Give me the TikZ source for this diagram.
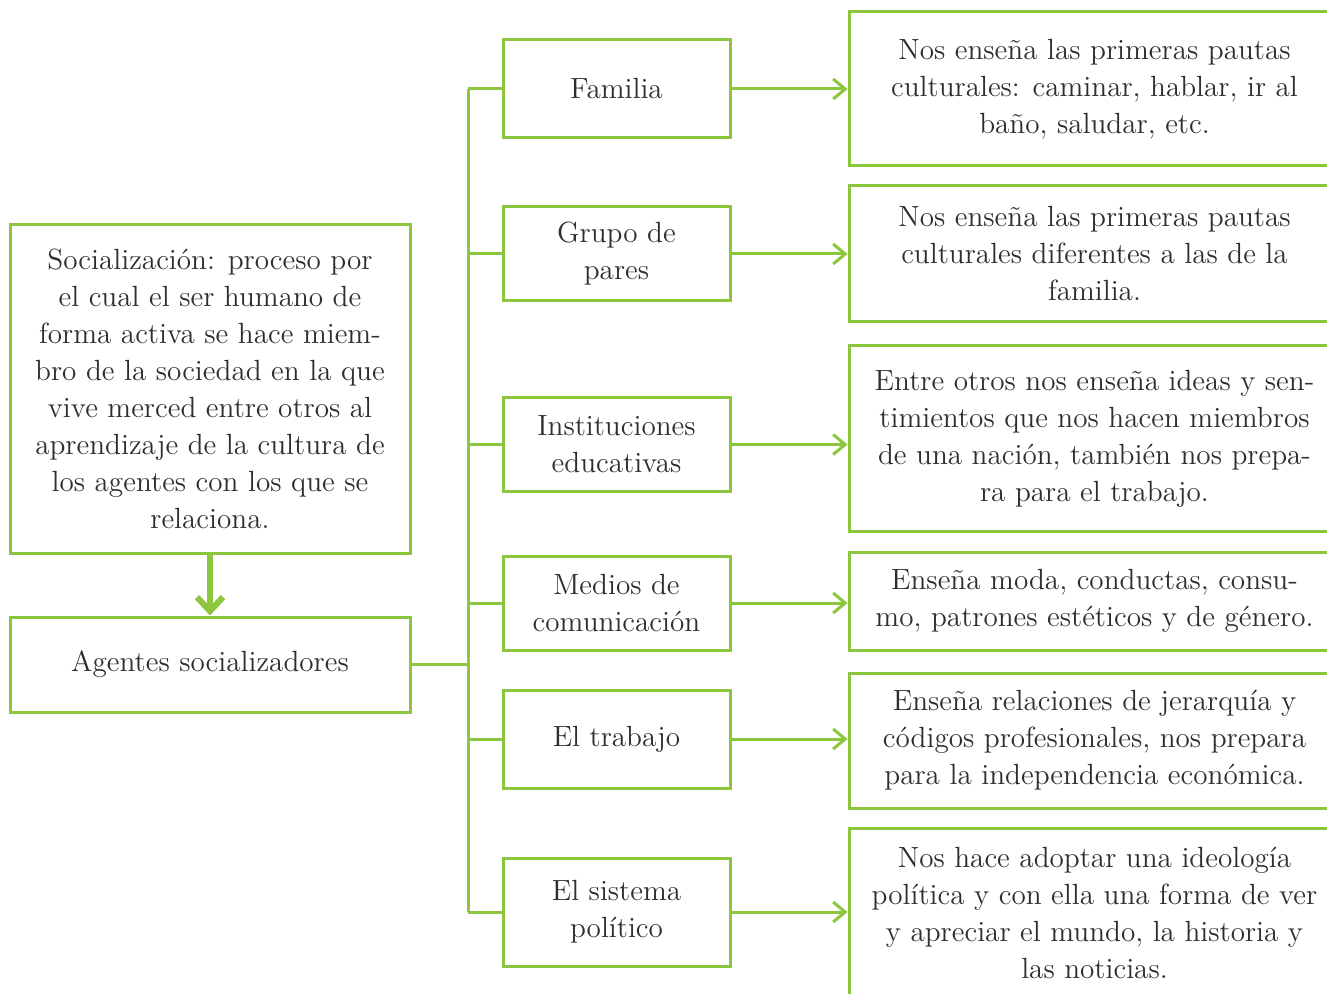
\documentclass[tikz,border=0pt]{standalone}
\usepackage{fontspec}
\usetikzlibrary{arrows.meta}
\definecolor{vg}{HTML}{8CC63F}
\definecolor{tx}{HTML}{2E2E2E}
\begin{document}
\begin{tikzpicture}[x=0.5pt,y=-0.5pt,
  box/.style={draw=vg, line width=1.5pt, rectangle, align=center, text=tx,
    font=\rmfamily\fontsize{14.6pt}{18.5pt}\selectfont, inner sep=0pt},
  conn/.style={draw=vg, line width=1.5pt},
  arr/.style={conn, -{Straight Barb[length=6pt,width=10pt]}},
  bigarr/.style={draw=vg, line width=3pt, -{Straight Barb[length=7pt,width=13pt]}}]
\clip (0,0) rectangle (1327,994);
\fill[white] (0,0) rectangle (1327,994);
% left boxes
\node[box, minimum width=200pt, minimum height=164pt] (soc) at (210,389)
  {Socialización: proceso por\\el cual el ser humano de\\forma activa se hace miem-\\bro de la sociedad en la que\\vive merced entre otros al\\aprendizaje de la cultura de\\los agentes con los que se\\relaciona.};
\node[box, minimum width=200pt, minimum height=47.5pt] (ag) at (210,664.5) {Agentes socializadores};
% middle boxes
\node[box, minimum width=113.5pt, minimum height=49pt] (m1) at (616.5,89) {Familia};
\node[box, minimum width=113.5pt, minimum height=47pt] (m2) at (616.5,254) {Grupo de\\pares};
\node[box, minimum width=113.5pt, minimum height=46.5pt] (m3) at (616.5,444.5) {Instituciones\\educativas};
\node[box, minimum width=113.5pt, minimum height=47pt] (m4) at (616.5,603) {Medios de\\comunicación};
\node[box, minimum width=113.5pt, minimum height=49pt] (m5) at (616.5,739) {El trabajo};
\node[box, minimum width=113.5pt, minimum height=54pt] (m6) at (616.5,912) {El sistema\\político};
% right boxes
\node[box, minimum width=245.5pt, minimum height=77pt] (r1) at (1094.5,89) {Nos enseña las primeras pautas\\culturales: caminar, hablar, ir al\\baño, saludar, etc.};
\node[box, minimum width=245.5pt, minimum height=68pt] (r2) at (1094.5,254) {Nos enseña las primeras pautas\\culturales diferentes a las de la\\familia.};
\node[box, minimum width=245.5pt, minimum height=92.5pt] (r3) at (1094.5,438.5) {Entre otros nos enseña ideas y sen-\\timientos que nos hacen miembros\\de una nación, también nos prepa-\\ra para el trabajo.};
\node[box, minimum width=245.5pt, minimum height=49pt] (r4) at (1094.5,601) {Enseña moda, conductas, consu-\\mo, patrones estéticos y de género.};
\node[box, minimum width=245.5pt, minimum height=67.5pt] (r5) at (1094.5,740.5) {Enseña relaciones de jerarquía y\\códigos profesionales, nos prepara\\para la independencia económica.};
\node[box, minimum width=245.5pt, minimum height=85pt] (r6) at (1094.5,913) {Nos hace adoptar una ideología\\política y con ella una forma de ver\\y apreciar el mundo, la historia y\\las noticias.};
% connectors
\coordinate (tk) at (468,0);
\draw[bigarr] (soc.south) -- (ag.north);
\draw[conn] (ag.east) -- (ag.east -| tk);
\draw[conn] (m1.west -| tk) -- (m6.west -| tk);
\foreach \m in {m1,m2,m3,m4,m5,m6} \draw[conn] (\m.west -| tk) -- (\m.west);
\draw[arr] (m1.east) -- (r1.west |- m1.east);
\draw[arr] (m2.east) -- (r2.west |- m2.east);
\draw[arr] (m3.east) -- (r3.west |- m3.east);
\draw[arr] (m4.east) -- (r4.west |- m4.east);
\draw[arr] (m5.east) -- (r5.west |- m5.east);
\draw[arr] (m6.east) -- (r6.west |- m6.east);
\end{tikzpicture}
\end{document}
